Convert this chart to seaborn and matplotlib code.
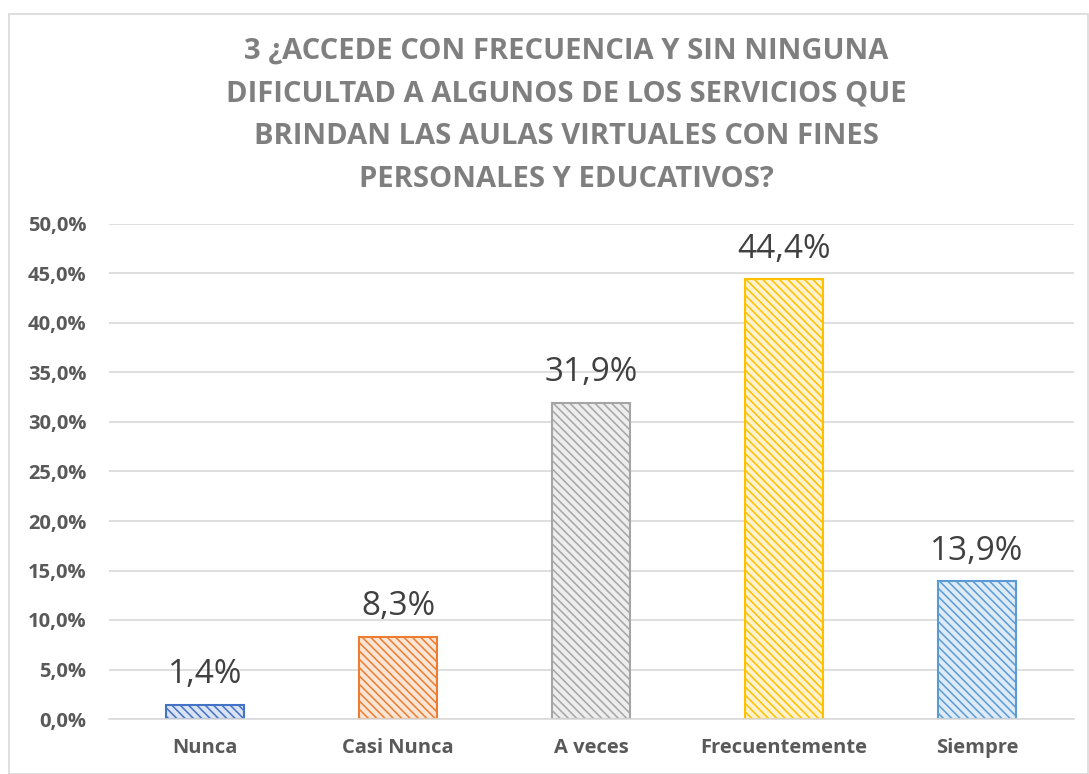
import matplotlib
matplotlib.use("Agg")
import matplotlib.pyplot as plt
import seaborn as sns
import pandas as pd
from matplotlib.patches import Rectangle
from matplotlib.ticker import MultipleLocator, FuncFormatter

categories = ["Nunca", "Casi Nunca", "A veces", "Frecuentemente", "Siempre"]
values = [0.014, 0.083, 0.319, 0.444, 0.139]
labels = ["1,4%", "8,3%", "31,9%", "44,4%", "13,9%"]
edge_colors = ["#4472C4", "#ED7D31", "#A5A5A5", "#FFC000", "#5B9BD5"]
fill_colors = ["#DAE3F3", "#FBE5D6", "#EDEDED", "#FFF2CC", "#DEEBF7"]
title = ("3 ¿ACCEDE CON FRECUENCIA Y SIN NINGUNA\nDIFICULTAD A ALGUNOS DE LOS SERVICIOS QUE\n"
         "BRINDAN LAS AULAS VIRTUALES CON FINES\nPERSONALES Y EDUCATIVOS?")

sns.set_theme(style="white")
plt.rcParams['font.family'] = ['Open Sans', 'DejaVu Sans']
plt.rcParams['hatch.linewidth'] = 1.1

df = pd.DataFrame({"cat": categories, "val": values})
fig = plt.figure(figsize=(10.89, 7.74), dpi=100)
ax = fig.add_axes([108.5 / 1089, 55 / 774, 965 / 1089, 495 / 774])

sns.barplot(data=df, x="cat", y="val", hue="cat", palette=edge_colors,
            legend=False, width=0.4, ax=ax)

for patch, ec, fc in zip(ax.patches, edge_colors, fill_colors):
    patch.set_facecolor(fc)
    patch.set_edgecolor(ec)
    patch.set_hatch("\\\\\\\\")
    patch.set_linewidth(1.5)

for i, (v, lab) in enumerate(zip(values, labels)):
    ax.text(i, v + 0.014, lab, ha="center", va="bottom", fontsize=24,
            color="#404040", family=["Open Sans", "DejaVu Sans"])

ax.set_ylim(0, 0.5)
ax.set_xlim(-0.5, 4.5)
ax.yaxis.set_major_locator(MultipleLocator(0.05))
ax.yaxis.set_major_formatter(FuncFormatter(lambda y, p: f"{y*100:.1f}%".replace(".", ",")))
ax.grid(axis="y", color="#D9D9D9", linewidth=1.2)
ax.set_axisbelow(True)
for s in ["top", "right", "left"]:
    ax.spines[s].set_visible(False)
ax.spines["bottom"].set_color("#D9D9D9")
ax.spines["bottom"].set_linewidth(1.2)
ax.set_xlabel("")
ax.set_ylabel("")
ax.tick_params(axis="both", length=0, labelsize=14.5, labelcolor="#595959")
ax.tick_params(axis="y", pad=16)
ax.tick_params(axis="x", pad=14)
for t in ax.get_xticklabels() + ax.get_yticklabels():
    t.set_fontweight("bold")

fig.text(0.52, 1 - 37 / 774, title, ha="center", va="top", fontsize=21, fontweight="bold",
         color="#7F7F7F", linespacing=1.62)

fig.patches.append(Rectangle((9 / 1089, 0), 1 - 9 / 1089 - 0.001, 1 - 14 / 774,
                             transform=fig.transFigure, fill=False,
                             edgecolor="#D9D9D9", linewidth=1.2))

fig.savefig("out.png", dpi=100)
